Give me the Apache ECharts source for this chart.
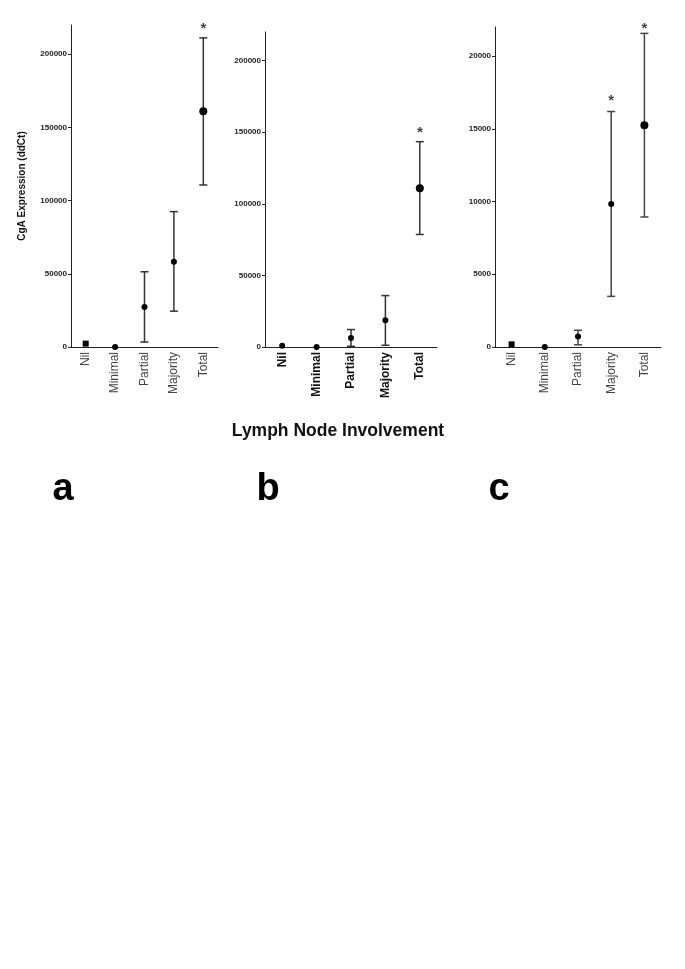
<!DOCTYPE html>
<html>
<head>
<meta charset="utf-8">
<script src="https://cdn.jsdelivr.net/npm/echarts@6/dist/echarts.min.js"></script>
<style>
  html, body { margin: 0; padding: 0; background: #fff; }
  #chart { width: 685px; height: 969px; }
</style>
</head>
<body>
<div id="chart"></div>
<script>
// ---- data ----
const categories = ['Nil', 'Minimal', 'Partial', 'Majority', 'Total'];

const meanA = [2300, 0, 27400, 58200, 161000];
const lowA  = [null, null, 3400, 24500, 110700];
const highA = [null, null, 51400, 92500, 211200];
const starA = [null, null, null, null, 220300];

const meanB = [800, 0, 6300, 18700, 110800];
const lowB  = [null, null, 500, 1200, 78600];
const highB = [null, null, 12200, 35900, 143400];
const starB = [null, null, null, null, 152700];

const meanC = [180, 0, 730, 9830, 15250];
const lowC  = [null, null, 150, 3480, 8940];
const highC = [null, null, 1150, 16190, 21560];
const starC = [null, null, null, 17215, 22130];

const yTicksAB = [0, 50000, 100000, 150000, 200000];
const yTicksC = [0, 5000, 10000, 15000, 20000];

const yTitle = 'CgA Expression (ddCt)';
const xTitle = 'Lymph Node Involvement';
const panelLetters = ['a', 'b', 'c'];

// ---- chart ----
const FONT = '"Liberation Sans", Arial, sans-serif';
const grids = [
  { left: 71, top: 25, width: 147, height: 322 },
  { left: 265, top: 32, width: 172, height: 315 },
  { left: 495, top: 27, width: 166, height: 320 }
];

function xAxis(i, bold) {
  return {
    type: 'category', gridIndex: i, data: categories, boundaryGap: true,
    axisLine: { lineStyle: { color: '#222', width: 1 } },
    axisTick: { alignWithLabel: true, length: 4, lineStyle: { color: '#222' } },
    axisLabel: {
      rotate: 90, margin: 5, fontFamily: FONT,
      fontSize: 12, fontWeight: bold ? 'bold' : 'normal',
      color: bold ? '#111' : '#444'
    },
    splitLine: { show: false }
  };
}
function yAxis(i, max, interval, ticks) {
  return {
    type: 'value', gridIndex: i, min: 0, max: max, interval: interval,
    axisLine: { show: true, lineStyle: { color: '#222', width: 1 } },
    axisTick: { show: true, length: 3, customValues: ticks, lineStyle: { color: '#222' } },
    axisLabel: {
      customValues: ticks, margin: 4, fontFamily: FONT, fontSize: 8, fontWeight: 'bold', color: '#222',
      formatter: function (v) { return String(Math.round(v)); }
    },
    splitLine: { show: false }
  };
}

function errSeries(i, low, high, color) {
  return {
    type: 'custom', xAxisIndex: i, yAxisIndex: i, z: 2,
    data: categories.map((c, k) => [k, low[k], high[k]]).filter(d => d[1] != null),
    renderItem: function (params, api) {
      const lo = api.coord([api.value(0), api.value(1)]);
      const hi = api.coord([api.value(0), api.value(2)]);
      const w = 4;
      const style = { stroke: color, lineWidth: 1.5 };
      return {
        type: 'group',
        children: [
          { type: 'line', shape: { x1: lo[0], y1: lo[1], x2: hi[0], y2: hi[1] }, style: style },
          { type: 'line', shape: { x1: lo[0] - w, y1: lo[1], x2: lo[0] + w, y2: lo[1] }, style: style },
          { type: 'line', shape: { x1: hi[0] - w, y1: hi[1], x2: hi[0] + w, y2: hi[1] }, style: style }
        ]
      };
    }
  };
}
function meanSeries(i, mean, symbols, sizes) {
  return {
    type: 'scatter', xAxisIndex: i, yAxisIndex: i, z: 3,
    data: mean.map((v, k) => ({ value: [k, v], symbol: symbols[k], symbolSize: sizes[k] })),
    itemStyle: { color: '#000', opacity: 1 }
  };
}
function starSeries(i, stars) {
  return {
    type: 'scatter', xAxisIndex: i, yAxisIndex: i, clip: false, z: 4,
    symbolSize: 0, silent: true,
    data: stars.map((v, k) => v == null ? null : [k, v]).filter(d => d),
    label: {
      show: true, position: 'inside', formatter: '*', color: '#111',
      fontFamily: FONT, fontSize: 15, fontWeight: 'bold', offset: [0, 4]
    }
  };
}

const option = {
  animation: false,
  backgroundColor: '#fff',
  grid: grids,
  xAxis: [xAxis(0, false), xAxis(1, true), xAxis(2, false)],
  yAxis: [
    yAxis(0, 220000, 50000, yTicksAB),
    yAxis(1, 220000, 50000, yTicksAB),
    yAxis(2, 22000, 5000, yTicksC)
  ],
  series: [
    errSeries(0, lowA, highA, '#333'),
    meanSeries(0, meanA, ['rect', 'circle', 'circle', 'circle', 'circle'], [6, 6, 6, 6, 8]),
    starSeries(0, starA),
    errSeries(1, lowB, highB, '#333'),
    meanSeries(1, meanB, ['circle', 'circle', 'circle', 'circle', 'circle'], [6, 6, 6, 6, 8]),
    starSeries(1, starB),
    errSeries(2, lowC, highC, '#444'),
    meanSeries(2, meanC, ['rect', 'circle', 'circle', 'circle', 'circle'], [6, 6, 6, 6, 8]),
    starSeries(2, starC)
  ],
  graphic: [
    {
      type: 'text', x: 22, y: 186, rotation: Math.PI / 2,
      style: { text: yTitle, fontFamily: FONT, fontSize: 10, fontWeight: 'bold', fill: '#111',
               textAlign: 'center', textVerticalAlign: 'middle' }
    },
    {
      type: 'text', x: 338, y: 440,
      style: { text: xTitle, fontFamily: FONT, fontSize: 17.5, fontWeight: 'bold', fill: '#111',
               textAlign: 'center', textVerticalAlign: 'bottom' }
    },
    { type: 'text', x: 63, y: 509, style: { text: panelLetters[0], fontFamily: FONT, fontSize: 38, fontWeight: 'bold', fill: '#000', textAlign: 'center', textVerticalAlign: 'bottom' } },
    { type: 'text', x: 268, y: 509, style: { text: panelLetters[1], fontFamily: FONT, fontSize: 38, fontWeight: 'bold', fill: '#000', textAlign: 'center', textVerticalAlign: 'bottom' } },
    { type: 'text', x: 499, y: 509, style: { text: panelLetters[2], fontFamily: FONT, fontSize: 38, fontWeight: 'bold', fill: '#000', textAlign: 'center', textVerticalAlign: 'bottom' } }
  ]
};

const chart = echarts.init(document.getElementById('chart'), null, { renderer: 'canvas' });
chart.setOption(option);
</script>
</body>
</html>
